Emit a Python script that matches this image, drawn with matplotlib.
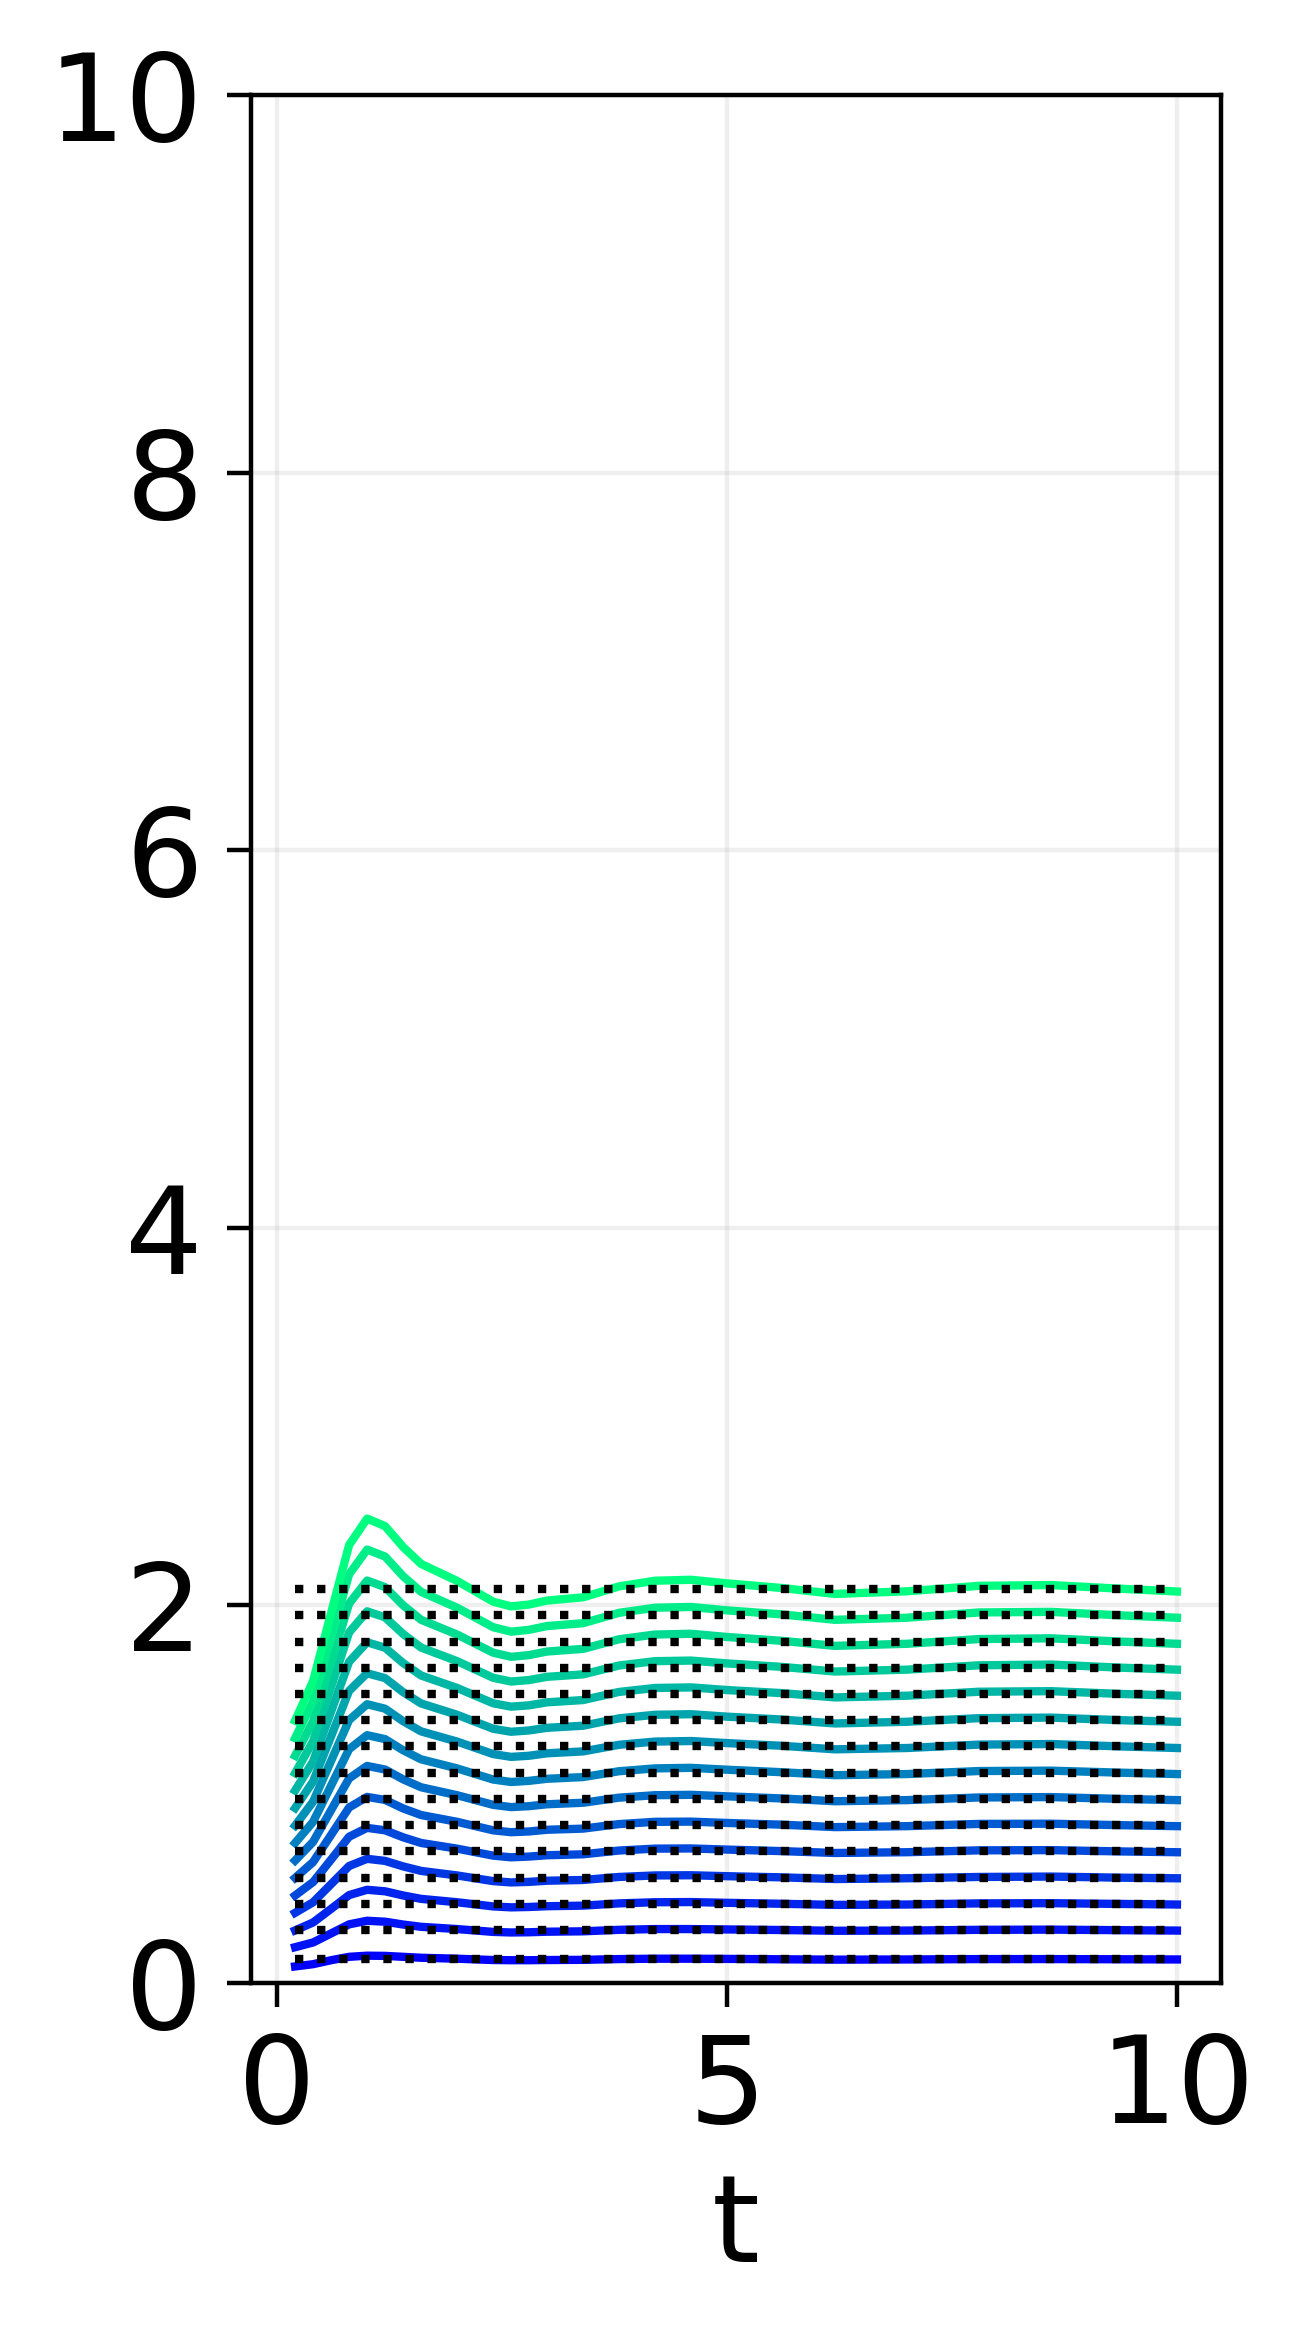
import matplotlib
matplotlib.use('Agg')
import matplotlib.pyplot as plt
import numpy as np

t = [0.2, 0.4, 0.6, 0.8, 1.0, 1.2, 1.4, 1.6, 2.0, 2.4, 2.6, 2.8, 3.0, 3.4, 3.8,
     4.2, 4.6, 5.0, 5.6, 6.2, 7.0, 7.8, 8.6, 9.4, 10.0]

# reference levels (dotted)
levels = [0.126, 0.280, 0.419, 0.558, 0.697, 0.836, 0.975, 1.114, 1.253, 1.392,
          1.531, 1.670, 1.808, 1.947, 2.087]

y01 = [0.088, 0.100, 0.121, 0.139, 0.145, 0.144, 0.139, 0.134, 0.129, 0.122, 0.121, 0.121, 0.122,
       0.123, 0.127, 0.129, 0.129, 0.128, 0.126, 0.124, 0.125, 0.127, 0.127, 0.126, 0.125]
y02 = [0.190, 0.215, 0.263, 0.311, 0.330, 0.325, 0.310, 0.298, 0.286, 0.271, 0.268, 0.269, 0.272,
       0.274, 0.282, 0.286, 0.286, 0.284, 0.281, 0.277, 0.278, 0.282, 0.283, 0.280, 0.278]
y03 = [0.279, 0.321, 0.393, 0.466, 0.494, 0.486, 0.464, 0.446, 0.428, 0.406, 0.401, 0.403, 0.407,
       0.410, 0.422, 0.428, 0.429, 0.425, 0.420, 0.414, 0.416, 0.422, 0.423, 0.419, 0.416]
y04 = [0.372, 0.428, 0.524, 0.620, 0.658, 0.647, 0.618, 0.594, 0.570, 0.540, 0.533, 0.536, 0.542,
       0.546, 0.562, 0.570, 0.571, 0.566, 0.560, 0.551, 0.555, 0.562, 0.564, 0.558, 0.555]
y05 = [0.464, 0.535, 0.654, 0.775, 0.822, 0.809, 0.772, 0.742, 0.712, 0.675, 0.666, 0.670, 0.677,
       0.682, 0.702, 0.712, 0.713, 0.707, 0.699, 0.689, 0.693, 0.703, 0.704, 0.697, 0.693]
y06 = [0.557, 0.641, 0.785, 0.930, 0.986, 0.970, 0.925, 0.890, 0.854, 0.809, 0.799, 0.803, 0.812,
       0.818, 0.842, 0.854, 0.855, 0.848, 0.839, 0.826, 0.831, 0.843, 0.844, 0.836, 0.831]
y07 = [0.649, 0.748, 0.916, 1.084, 1.150, 1.131, 1.079, 1.037, 0.995, 0.944, 0.932, 0.937, 0.947,
       0.955, 0.982, 0.995, 0.997, 0.989, 0.978, 0.963, 0.969, 0.983, 0.985, 0.975, 0.969]
y08 = [0.742, 0.854, 1.046, 1.239, 1.313, 1.292, 1.233, 1.185, 1.137, 1.078, 1.065, 1.071, 1.082,
       1.091, 1.122, 1.137, 1.140, 1.130, 1.117, 1.101, 1.107, 1.123, 1.125, 1.114, 1.107]
y09 = [0.834, 0.961, 1.177, 1.393, 1.477, 1.453, 1.387, 1.333, 1.279, 1.213, 1.198, 1.204, 1.217,
       1.227, 1.262, 1.279, 1.282, 1.271, 1.257, 1.238, 1.245, 1.263, 1.266, 1.253, 1.245]
y10 = [0.927, 1.068, 1.307, 1.548, 1.641, 1.615, 1.541, 1.481, 1.421, 1.347, 1.331, 1.338, 1.352,
       1.363, 1.402, 1.421, 1.424, 1.411, 1.396, 1.375, 1.384, 1.403, 1.406, 1.392, 1.384]
y11 = [1.020, 1.174, 1.438, 1.702, 1.805, 1.776, 1.695, 1.629, 1.563, 1.482, 1.464, 1.471, 1.487,
       1.499, 1.542, 1.563, 1.566, 1.552, 1.536, 1.513, 1.522, 1.543, 1.546, 1.531, 1.522]
y12 = [1.112, 1.281, 1.568, 1.857, 1.969, 1.937, 1.849, 1.777, 1.705, 1.617, 1.597, 1.605, 1.622,
       1.635, 1.682, 1.705, 1.708, 1.693, 1.675, 1.650, 1.660, 1.683, 1.687, 1.670, 1.660]
y13 = [1.204, 1.387, 1.698, 2.010, 2.132, 2.097, 2.001, 1.924, 1.846, 1.750, 1.728, 1.737, 1.756,
       1.770, 1.821, 1.846, 1.850, 1.833, 1.813, 1.786, 1.797, 1.822, 1.826, 1.808, 1.797]
y14 = [1.297, 1.493, 1.828, 2.165, 2.296, 2.259, 2.155, 2.072, 1.988, 1.885, 1.861, 1.871, 1.891,
       1.906, 1.961, 1.988, 1.992, 1.974, 1.953, 1.924, 1.935, 1.963, 1.966, 1.947, 1.935]
y15 = [1.390, 1.600, 1.960, 2.320, 2.460, 2.420, 2.310, 2.220, 2.130, 2.020, 1.995, 2.005, 2.026,
       2.043, 2.101, 2.131, 2.136, 2.117, 2.093, 2.061, 2.075, 2.104, 2.108, 2.088, 2.074]

curves = [y01, y02, y03, y04, y05, y06, y07, y08, y09, y10, y11, y12, y13, y14, y15]

fig = plt.figure(figsize=(3.255, 5.8525), dpi=400)
ax = fig.add_axes([0.1928, 0.1529, 0.7450, 0.8065])
colors = plt.cm.winter(np.linspace(0, 1, len(curves)))
for y, c in zip(curves, colors):
    ax.plot(t, y, '-', color=c, lw=1.5)
for lv in levels:
    ax.plot([t[0], t[-1]], [lv, lv], 'k:', lw=1.5)
ax.set_ylim(0, 10)
ax.set_xticks([0, 5, 10])
ax.set_yticks([0, 2, 4, 6, 8, 10])
ax.tick_params(labelsize=22, length=4.3, pad=4.3)
ax.set_xlabel('t', fontsize=22)
ax.grid(alpha=0.2)
fig.savefig('out.png', dpi=400)
